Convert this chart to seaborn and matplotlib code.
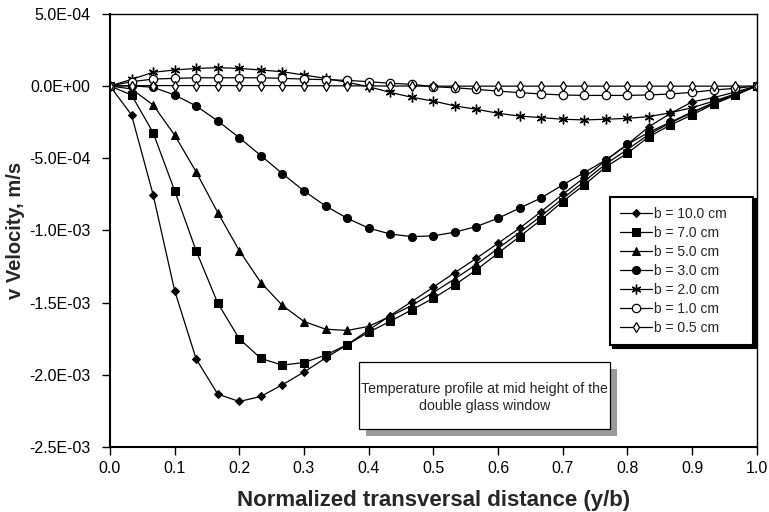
import matplotlib
matplotlib.use("Agg")
import matplotlib.pyplot as plt
import seaborn as sns
import pandas as pd
from matplotlib.ticker import FuncFormatter
from matplotlib.patches import Rectangle

# ---- data (velocity values in units of 1e-4 m/s) ----
x_pos = [0.0, 0.0333, 0.0667, 0.1, 0.1333, 0.1667, 0.2, 0.2333, 0.2667, 0.3,
         0.3333, 0.3667, 0.4, 0.4333, 0.4667, 0.5, 0.5333, 0.5667, 0.6, 0.6333,
         0.6667, 0.7, 0.7333, 0.7667, 0.8, 0.8333, 0.8667, 0.9, 0.9333, 0.9667, 1.0]

v_b10 = [0, -2.0, -7.52, -14.17, -18.91, -21.34, -21.85, -21.50, -20.69, -19.81,
         -18.84, -17.92, -16.9, -15.9, -14.93, -13.93, -12.92, -11.93, -10.89, -9.85,
         -8.70, -7.5, -6.35, -5.15, -4.05, -2.82, -1.9, -1.1, -0.8, -0.42, 0]
v_b7 = [0, -0.62, -3.23, -7.25, -11.42, -15.04, -17.51, -18.87, -19.33, -19.15,
        -18.64, -17.92, -17.05, -16.3, -15.5, -14.7, -13.77, -12.73, -11.58, -10.43,
        -9.27, -8.0, -6.85, -5.6, -4.66, -3.51, -2.7, -2.0, -1.25, -0.65, 0]
v_b5 = [0, -0.2, -1.31, -3.4, -5.95, -8.77, -11.4, -13.61, -15.2, -16.31,
        -16.84, -16.93, -16.65, -15.95, -15.2, -14.3, -13.35, -12.35, -11.25, -10.15,
        -9.0, -7.8, -6.6, -5.4, -4.4, -3.35, -2.55, -1.85, -1.15, -0.6, 0]
v_b3 = [0, 0.02, -0.09, -0.62, -1.38, -2.42, -3.58, -4.82, -6.07, -7.27,
        -8.30, -9.16, -9.84, -10.25, -10.43, -10.38, -10.12, -9.73, -9.16, -8.46,
        -7.75, -6.85, -6.0, -5.12, -4.05, -3.2, -2.5, -1.8, -1.2, -0.6, 0]
v_b2 = [0, 0.46, 0.95, 1.11, 1.22, 1.27, 1.22, 1.11, 0.99, 0.76,
        0.53, 0.26, -0.05, -0.44, -0.78, -1.04, -1.38, -1.61, -1.89, -2.08,
        -2.19, -2.30, -2.35, -2.30, -2.24, -2.12, -1.85, -1.5, -1.05, -0.55, 0]
v_b1 = [0, 0.3, 0.48, 0.53, 0.57, 0.57, 0.57, 0.57, 0.53, 0.48,
        0.44, 0.39, 0.30, 0.19, 0.12, -0.05, -0.12, -0.23, -0.35, -0.46,
        -0.55, -0.62, -0.65, -0.65, -0.65, -0.62, -0.55, -0.44, -0.28, -0.16, 0]
v_b05 = [0, 0.02, 0.03, 0.03, 0.03, 0.03, 0.03, 0.03, 0.03, 0.02,
         0.02, 0.01, 0.01, 0.0, 0.0, -0.01, -0.01, -0.01, -0.01, -0.01,
         -0.01, -0.01, -0.01, -0.01, -0.01, -0.01, -0.01, -0.01, -0.01, -0.01, 0]

labels = ["b = 10.0 cm", "b = 7.0 cm", "b = 5.0 cm", "b = 3.0 cm",
          "b = 2.0 cm", "b = 1.0 cm", "b = 0.5 cm"]
series = [v_b10, v_b7, v_b5, v_b3, v_b2, v_b1, v_b05]
UNIT = 1e-4

x_ticks = [0.0, 0.1, 0.2, 0.3, 0.4, 0.5, 0.6, 0.7, 0.8, 0.9, 1.0]
y_ticks = [5.0e-4, 0.0, -5.0e-4, -1.0e-3, -1.5e-3, -2.0e-3, -2.5e-3]

styles = [
    dict(marker="D", markersize=4.4, markerfacecolor="black"),
    dict(marker="s", markersize=5.5, markerfacecolor="black"),
    dict(marker="^", markersize=5.8, markerfacecolor="black"),
    dict(marker="o", markersize=5.8, markerfacecolor="black"),
    dict(marker=(6, 2, 0), markersize=7, markerfacecolor="black", markeredgewidth=1.0),
    dict(marker="o", markersize=6, markerfacecolor="white", markeredgewidth=0.9),
    dict(marker="d", markersize=5, markerfacecolor="white", markeredgewidth=0.9),
]

sns.set_style("white")
plt.rcParams["font.family"] = ["Liberation Sans", "DejaVu Sans"]

fig = plt.figure(figsize=(7.69, 5.12), dpi=100)
ax = fig.add_axes([0.143, 0.127, 0.841, 0.846])

for lab, vals, st in zip(labels, series, styles):
    df = pd.DataFrame({"x": x_pos, "v": [v * UNIT for v in vals]})
    sns.lineplot(data=df, x="x", y="v", ax=ax, color="black", linewidth=0.9,
                 markeredgecolor="black", label=lab, **st)

ax.set_xlim(0, 1.0)
ax.set_ylim(-2.5e-3, 5.0e-4)
ax.set_xticks(x_ticks)
ax.set_yticks(y_ticks)
ax.xaxis.set_major_formatter(FuncFormatter(lambda v, p: f"{v:.1f}"))
ax.yaxis.set_major_formatter(FuncFormatter(lambda v, p: f"{v:.1E}"))
ax.tick_params(axis="both", direction="out", length=6, width=1, labelsize=11.5,
               colors="black", bottom=True, left=True)
ax.tick_params(axis="y", pad=8)
ax.tick_params(axis="x", pad=4)
for s in ax.spines.values():
    s.set_color("black")
    s.set_linewidth(1.0)
ax.spines["left"].set_linewidth(1.5)
ax.spines["bottom"].set_linewidth(1.5)

ax.set_xlabel("Normalized transversal distance (y/b)", fontsize=16,
              fontweight="bold", labelpad=10)
ax.set_ylabel("v Velocity, m/s", fontsize=14.5, fontweight="bold", labelpad=3)

leg = ax.legend(loc="upper left", bbox_to_anchor=(0.773, 0.578, 0.222, 0.0),
                mode="expand", frameon=True,
                fancybox=False, shadow={"color": "black", "alpha": 1.0},
                fontsize=10, handlelength=2.3, handletextpad=0.1,
                labelspacing=0.36, borderpad=0.75, borderaxespad=0.0)
leg.get_frame().set_edgecolor("black")
leg.get_frame().set_linewidth(1.5)

# annotation box with grey shadow
bx0, bx1, by0, by1 = 0.385, 0.773, 0.042, 0.196
ax.add_patch(Rectangle((bx0 + 0.011, by0 - 0.016), bx1 - bx0, by1 - by0,
                       transform=ax.transAxes, facecolor="#9a9a9a",
                       edgecolor="none", zorder=5))
ax.add_patch(Rectangle((bx0, by0), bx1 - bx0, by1 - by0, transform=ax.transAxes,
                       facecolor="white", edgecolor="black", linewidth=0.9, zorder=6))
ax.text((bx0 + bx1) / 2, (by0 + by1) / 2 - 0.005,
        "Temperature profile at mid height of the\ndouble glass window",
        transform=ax.transAxes, ha="center", va="center", fontsize=10.2,
        linespacing=1.3, zorder=7)

fig.savefig("out.png", dpi=100)
